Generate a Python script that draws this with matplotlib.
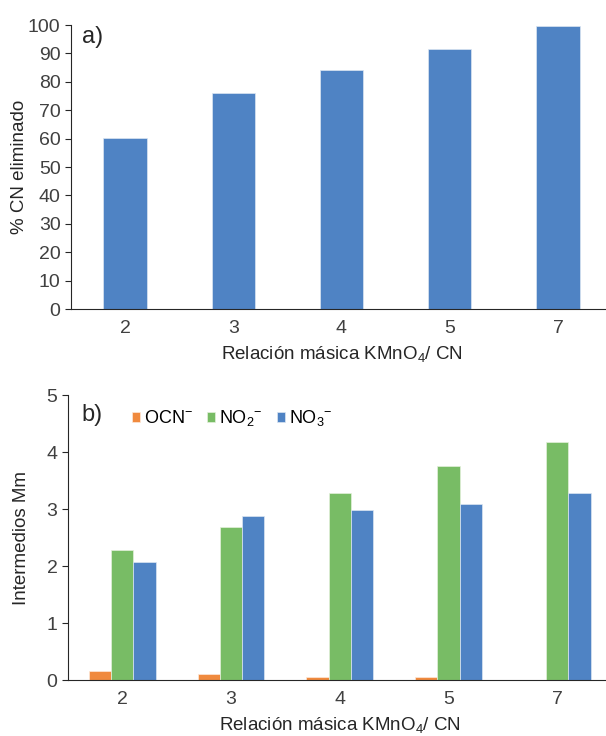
import numpy as np
import matplotlib
matplotlib.use("Agg")
import matplotlib.pyplot as plt

plt.rcParams['font.family'] = ['Liberation Sans', 'DejaVu Sans']
plt.rcParams['mathtext.fontset'] = 'custom'
plt.rcParams['mathtext.rm'] = 'Liberation Sans'
plt.rcParams['mathtext.it'] = 'Liberation Sans'

# data
ratios = ["2", "3", "4", "5", "7"]
cn_removed = [60.3, 75.9, 84.0, 91.5, 99.5]
ocn = [0.16, 0.10, 0.06, 0.06, 0.0]
no2 = [2.28, 2.68, 3.29, 3.75, 4.18]
no3 = [2.08, 2.88, 2.99, 3.09, 3.29]

BLUE = '#4f83c4'
GREEN = '#78bc65'
ORANGE = '#f08a3e'
TICK_C = '#404040'
FS_TICK = 14
FS_LAB = 13.5

fig = plt.figure(figsize=(6.06, 7.36), dpi=100)
ax1 = fig.add_axes([0.117, 0.580, 0.893, 0.386])
ax2 = fig.add_axes([0.112, 0.076, 0.897, 0.387])

x = np.arange(len(ratios))


def style(ax):
    ax.spines['right'].set_visible(False)
    ax.spines['top'].set_visible(False)
    ax.spines['left'].set_color('#262626')
    ax.spines['bottom'].set_color('#262626')
    ax.tick_params(axis='x', length=0, pad=8, labelsize=FS_TICK, labelcolor=TICK_C)
    ax.tick_params(axis='y', length=4, width=0.8, color='#262626', labelsize=FS_TICK, labelcolor=TICK_C)
    ax.set_xticks(x)
    ax.set_xticklabels(ratios)
    ax.set_xlim(-0.5, len(ratios) - 0.5)


# a)
ax1.bar(x, cn_removed, width=0.4, color=BLUE, edgecolor='#dce6f2', linewidth=0.5)
style(ax1)
ax1.set_ylim(0, 100)
ax1.set_yticks(np.arange(0, 101, 10))
ax1.set_ylabel('% CN eliminado', fontsize=FS_LAB, color='#262626', labelpad=0)
ax1.set_xlabel('Relación másica KMnO$_4$/ CN', fontsize=FS_LAB, color='#262626', labelpad=5)
ax1.text(0.02, 0.995, 'a)', transform=ax1.transAxes, fontsize=17, va='top', color='#262626')

# b)
w = 0.205
ax2.bar(x - w, ocn, width=w, color=ORANGE, edgecolor='#fde9d9', linewidth=0.5, label='OCN$^{-}$')
ax2.bar(x, no2, width=w, color=GREEN, edgecolor='#e4f0dc', linewidth=0.5, label='NO$_2$$^{-}$')
ax2.bar(x + w, no3, width=w, color=BLUE, edgecolor='#dce6f2', linewidth=0.5, label='NO$_3$$^{-}$')
style(ax2)
ax2.set_ylim(0, 5)
ax2.set_yticks(np.arange(0, 6, 1))
ax2.set_ylabel('Intermedios Mm', fontsize=FS_LAB, color='#262626', labelpad=12)
ax2.set_xlabel('Relación másica KMnO$_4$/ CN', fontsize=FS_LAB, color='#262626', labelpad=5)
ax2.text(0.025, 0.97, 'b)', transform=ax2.transAxes, fontsize=17, va='top', color='#262626')
ax2.legend(loc='upper left', bbox_to_anchor=(0.105, 0.98), ncol=3, frameon=False,
           fontsize=13, handlelength=0.45, handleheight=0.45, handletextpad=0.2,
           columnspacing=0.8, borderaxespad=0)

fig.savefig('out.png', dpi=100)
